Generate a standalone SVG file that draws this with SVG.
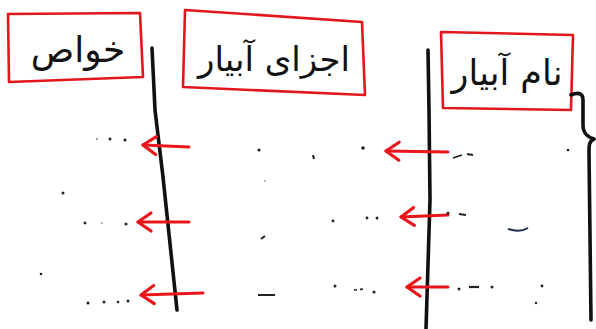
<svg xmlns="http://www.w3.org/2000/svg" width="596" height="329" viewBox="0 0 596 329">
<style>
.box{fill:none;stroke:#e3161d;stroke-width:2.6;stroke-linejoin:round}
.lbl{font-family:"DejaVu Sans","Noto Sans",sans-serif;fill:#111;text-anchor:middle}
.pen{fill:none;stroke:#111;stroke-width:3.6;stroke-linecap:round;stroke-linejoin:round}
.arr{fill:none;stroke:#e8151b;stroke-width:3;stroke-linecap:round;marker-end:url(#head)}
.dot{fill:#222}
</style>
<defs>
<marker id="head" markerUnits="userSpaceOnUse" markerWidth="40" markerHeight="40" refX="0" refY="0" orient="auto" overflow="visible">
<path d="M-13,-9 L0,0 L-13,9" fill="none" stroke="#e8151b" stroke-width="3.2" stroke-linecap="round" stroke-linejoin="round"/>
</marker>
</defs>
<rect width="596" height="329" fill="#ffffff"/>
<g id="node-khavas">
<path class="box" d="M8,14 L140,13 L143,77 L9,82 Z"/>
<text class="lbl" x="78" y="62" font-size="36">خواص</text>
</g>
<g id="node-ajza">
<path class="box" d="M185,10 L362,22 L365,95 L183,87 Z"/>
<text class="lbl" x="274" y="71" font-size="34">اجزای آبیار</text>
</g>
<g id="node-nam">
<path class="box" d="M441,32 L573,35 L571,110 L443,108 Z"/>
<text class="lbl" x="507" y="85" font-size="35">نام آبیار</text>
</g>
<g id="connectors">
<path class="pen" d="M152,48 L155,110 L163,177 L177,310"/>
<path class="pen" d="M428,50 L429,110 L430,200 L426,329"/>
<path class="pen" d="M571,95 C578,92 583,93 583,100 L583,125 C583,134 588,137 594,139 C589,141 589,146 589,152 L591,320"/>
<path class="arr" d="M189,147 L143,145"/>
<path class="arr" d="M189,222 L138,222"/>
<path class="arr" d="M203,293 L141,295"/>
<path class="arr" d="M448,152 L386,151"/>
<path class="arr" d="M448,215 L401,217"/>
<path class="arr" d="M448,287 L407,287"/>
</g>
<g id="marks">
<circle class="dot" cx="97" cy="139" r="1.2" opacity="0.4"/>
<circle class="dot" cx="110" cy="139" r="1.5"/>
<circle class="dot" cx="125" cy="140" r="1.6"/>
<circle class="dot" cx="63" cy="193" r="1.5"/>
<circle class="dot" cx="85" cy="223" r="1.4"/>
<circle class="dot" cx="102" cy="223" r="1.1" opacity="0.4"/>
<circle class="dot" cx="126" cy="224" r="1.5"/>
<circle class="dot" cx="41" cy="274" r="1.3"/>
<circle class="dot" cx="88" cy="303" r="1.5"/>
<circle class="dot" cx="104" cy="302" r="1.5"/>
<circle class="dot" cx="118" cy="302" r="1.3"/>
<circle class="dot" cx="128" cy="301" r="1.5"/>
<circle class="dot" cx="259" cy="150" r="1.6"/>
<circle class="dot" cx="265" cy="181" r="1.1" opacity="0.4"/>
<path d="M261,239 L265,236" stroke="#222" stroke-width="2" fill="none"/>
<path d="M258,295 L275,295" stroke="#222" stroke-width="2" fill="none"/>
<path d="M313,155 L314,159" stroke="#222" stroke-width="2" fill="none"/>
<circle class="dot" cx="363" cy="148" r="1.8"/>
<path d="M453,158 L462,155 M467,154 L473,155" stroke="#222" stroke-width="1.8" fill="none"/>
<circle class="dot" cx="568" cy="150" r="1.3"/>
<circle class="dot" cx="333" cy="221" r="1.4"/>
<circle class="dot" cx="367" cy="218" r="1.4"/>
<circle class="dot" cx="377" cy="218" r="1.5"/>
<circle class="dot" cx="448" cy="213" r="1.5"/>
<path d="M459,214 L466,215" stroke="#222" stroke-width="2" fill="none"/>
<path d="M508,229 Q520,233 528,228" stroke="#1a2a4a" stroke-width="2" fill="none"/>
<circle class="dot" cx="335" cy="286" r="1.5"/>
<path d="M354,290 L364,289" stroke="#222" stroke-width="1.6" fill="none" stroke-dasharray="3 3"/>
<circle class="dot" cx="374" cy="292" r="1.6"/>
<circle class="dot" cx="459" cy="289" r="1.5"/>
<path d="M469,287 L479,287" stroke="#222" stroke-width="2.2" fill="none"/>
<circle class="dot" cx="492" cy="287" r="1.5"/>
<circle class="dot" cx="542" cy="286" r="1.4"/>
<circle class="dot" cx="536" cy="303" r="1.2"/>
</g>
</svg>
